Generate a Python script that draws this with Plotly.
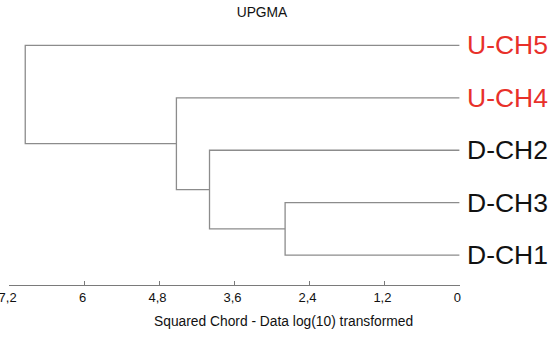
import plotly.graph_objects as go

# Leaves, top to bottom
leaf_labels = ["U-CH5", "U-CH4", "D-CH2", "D-CH3", "D-CH1"]
leaf_colors = ["#e8302a", "#e8302a", "#111111", "#111111", "#111111"]
# Merges (child_a, child_b, height) ; leaves indexed 0..4, new clusters 5..
merge_a = [3, 2, 1, 0]
merge_b = [4, 5, 6, 7]
merge_height = [2.79, 4.00, 4.53, 6.95]

tick_vals = [7.2, 6, 4.8, 3.6, 2.4, 1.2, 0]
tick_text = ["7,2", "6", "4,8", "3,6", "2,4", "1,2", "0"]

FONT = "Liberation Sans, Arial, sans-serif"
W, H = 550, 337
ML, MR, MT, MB = 8.7, 90.1, 13.5, 52
PW, PH = W - ML - MR, H - MT - MB

n = len(leaf_labels)
ypos = {i: n - i for i in range(n)}  # top leaf highest
hpos = {i: 0.0 for i in range(n)}

xs, ys = [], []
for k, (a, b, h) in enumerate(zip(merge_a, merge_b, merge_height)):
    node = n + k
    ya, yb = ypos[a], ypos[b]
    xs += [hpos[a], h, h, hpos[b], None]
    ys += [ya, ya, yb, yb, None]
    ypos[node] = (ya + yb) / 2
    hpos[node] = h

fig = go.Figure()
fig.add_trace(go.Scatter(x=xs, y=ys, mode="lines",
                         line=dict(color="#8c8c8c", width=1.3),
                         hoverinfo="skip", showlegend=False, cliponaxis=False))

for i, (lab, col) in enumerate(zip(leaf_labels, leaf_colors)):
    fig.add_annotation(x=0, y=ypos[i], xref="x", yref="y", text=lab,
                       showarrow=False, xanchor="left", yanchor="middle",
                       xshift=6, font=dict(size=26.5, color=col, family=FONT))

fig.add_annotation(x=(283.5 - ML) / PW, y=(H - MB - 322) / PH, xref="paper", yref="paper",
                   text="Squared Chord - Data log(10) transformed", showarrow=False,
                   xanchor="center", yanchor="middle",
                   font=dict(size=13.8, color="#111111", family=FONT))

fig.update_layout(
    template="none",
    width=W, height=H,
    margin=dict(l=ML, r=MR, t=MT, b=MB, pad=0, autoexpand=False),
    paper_bgcolor="white", plot_bgcolor="white",
    title=dict(text="UPGMA", x=262 / W, xref="container", xanchor="center",
               y=1 - 12.5 / H, yref="container", yanchor="middle",
               font=dict(size=13.8, color="#111111", family=FONT)),
    xaxis=dict(range=[7.21, -0.01], autorange=False, tickvals=tick_vals, ticktext=tick_text,
               showgrid=False, zeroline=False, showline=True, linecolor="#7a7a7a",
               linewidth=1.2, ticks="inside", ticklen=4, tickcolor="#7a7a7a", tickwidth=1.2,
               ticklabelshift=2, ticklabeloverflow="allow", automargin=False,
               tickfont=dict(size=13, color="#111111", family=FONT)),
    yaxis=dict(range=[0.4286, 5.6], autorange=False, visible=False, showgrid=False,
               zeroline=False, automargin=False),
    showlegend=False,
)

fig.write_html("out.html", config={"displayModeBar": False},
               post_script="document.body.style.margin='0';document.body.style.padding='0';")
